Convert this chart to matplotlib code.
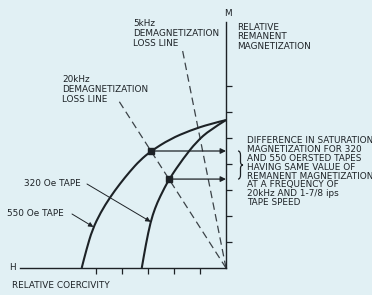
import numpy as np
import matplotlib
matplotlib.use("Agg")
import matplotlib.pyplot as plt
from matplotlib.path import Path
from matplotlib.patches import PathPatch

# --- data, in tick units (relative coercivity H, relative remanent magnetization M) ---
tape550_h = [-5.55, -5.37, -5.14, -4.82, -4.46, -4.08, -3.69, -3.31, -2.88, -2.15, -1.38, -0.62, 0.00]
tape550_m = [0.00, 0.70, 1.48, 2.14, 2.72, 3.24, 3.72, 4.14, 4.50, 4.96, 5.29, 5.54, 5.69]

tape320_h = [-3.24, -3.08, -2.90, -2.73, -2.54, -2.19, -1.64, -1.13, -0.62, 0.00]
tape320_m = [0.00, 0.92, 1.78, 2.30, 2.74, 3.42, 4.22, 4.86, 5.31, 5.69]

loss20_h = [0.0, -4.15]
loss20_m = [0.0, 6.47]
loss5_h = [0.0, -1.69]
loss5_m = [0.0, 8.46]

# points where the 20 kHz loss line meets each tape curve
cross_h = [-2.88, -2.19]
cross_m = [4.50, 3.42]

h_ticks = [-5, -4, -3, -2, -1]
m_ticks = [1, 2, 3, 4, 5, 6, 7]

# --- layout helpers (reference is 372x295 px, origin at px 226,268, 26 px per tick) ---
W, H = 372, 295
X0, Y0, UNIT = 226, 268, 26.0


def px(x, y):
    """pixel position in the picture -> data units"""
    return ((x - X0) / UNIT, (Y0 - y) / UNIT)


def smooth_path(xs, ys):
    """quadratic bezier chain through the midpoints, so the read points don't show as kinks"""
    p = np.column_stack([xs, ys])
    verts = [p[0], (p[0] + p[1]) / 2]
    codes = [Path.MOVETO, Path.LINETO]
    for i in range(1, len(p) - 1):
        end = (p[i] + p[i + 1]) / 2 if i < len(p) - 2 else p[-1]
        verts += [p[i], end]
        codes += [Path.CURVE3, Path.CURVE3]
    return Path(verts, codes)


bg = "#e1f0f4"
ink = "#1d2226"
fs = 6.4

fig = plt.figure(figsize=(W / 100, H / 100), dpi=100, facecolor=bg)
ax = fig.add_axes([0, 0, 1, 1], facecolor=bg)
ax.set_xlim(-X0 / UNIT, (W - X0) / UNIT)
ax.set_ylim((Y0 - H) / UNIT, Y0 / UNIT)

# axes through the origin
ax.spines["left"].set_visible(False)
ax.spines["top"].set_visible(False)
ax.spines["right"].set_position(("data", 0))
ax.spines["bottom"].set_position(("data", 0))
ax.spines["right"].set_bounds(0, px(0, 22)[1])
ax.spines["bottom"].set_bounds(px(20, 0)[0], 0)
for sp in ("right", "bottom"):
    ax.spines[sp].set_color(ink)
    ax.spines[sp].set_linewidth(1.0)
ax.yaxis.tick_right()
ax.set_xticks(h_ticks)
ax.set_yticks(m_ticks)
ax.set_xticklabels([])
ax.set_yticklabels([])
ax.tick_params(direction="out", length=4, width=0.9, color=ink)

# curves
for hs, ms in ((tape550_h, tape550_m), (tape320_h, tape320_m)):
    ax.add_patch(PathPatch(smooth_path(hs, ms), fill=False, ec=ink, lw=1.5,
                           capstyle="butt", zorder=3))

# demagnetization loss lines
ax.plot(loss20_h, loss20_m, color="#3b4247", lw=0.9, dashes=(6, 3.5), zorder=2)
ax.plot(loss5_h, loss5_m, color="#3b4247", lw=0.9, dashes=(6, 3.5), zorder=2)

# intersections + horizontal arrows to the M axis
ax.plot(cross_h, cross_m, ls="none", marker="s", ms=4, color=ink, zorder=4)
arr = dict(arrowstyle="-|>", color=ink, lw=0.9, mutation_scale=8, shrinkA=0, shrinkB=0)
for h, m in zip(cross_h, cross_m):
    ax.annotate("", xy=(0, m), xytext=(h, m), arrowprops=arr, zorder=4)

# brace between the two magnetization levels
bx = px(238, 0)[0]
bw = 5 / UNIT
y0, y1 = min(cross_m), max(cross_m)
ym = (y0 + y1) / 2
hh = y1 - y0
xm = bx + bw / 2
verts = [(bx, y1), (xm, y1), (xm, y1 - 0.15 * hh),
         (xm, ym + 0.12 * hh), (xm, ym), (bx + bw, ym),
         (xm, ym), (xm, ym - 0.12 * hh),
         (xm, y0 + 0.15 * hh), (xm, y0), (bx, y0)]
codes = [Path.MOVETO, Path.CURVE3, Path.CURVE3,
         Path.LINETO, Path.CURVE3, Path.CURVE3,
         Path.CURVE3, Path.CURVE3,
         Path.LINETO, Path.CURVE3, Path.CURVE3]
ax.add_patch(PathPatch(Path(verts, codes), fill=False, ec=ink, lw=0.9))

# text
def label(x, y, s, **kw):
    ax.text(*px(x, y), s, fontsize=fs, color=ink, va="center", ha=kw.pop("ha", "left"), **kw)


label(228, 14, "M", ha="center")
for i, s in enumerate(["RELATIVE", "REMANENT", "MAGNETIZATION"]):
    label(237, 27 + 9.8 * i, s)
for i, s in enumerate(["5kHz", "DEMAGNETIZATION", "LOSS LINE"]):
    label(133, 23 + 10 * i, s)
for i, s in enumerate(["20kHz", "DEMAGNETIZATION", "LOSS LINE"]):
    label(62, 80 + 9.5 * i, s)
note = ["DIFFERENCE IN SATURATION", "MAGNETIZATION FOR 320", "AND 550 OERSTED TAPES",
        "HAVING SAME VALUE OF", "REMANENT MAGNETIZATION", "AT A FREQUENCY OF",
        "20kHz AND 1-7/8 ips", "TAPE SPEED"]
for i, s in enumerate(note):
    label(247, 140.7 + 8.85 * i, s)
label(9, 268, "H")
label(12, 285, "RELATIVE COERCIVITY")

# tape labels with pointer arrows
label(24, 183, "320 Oe TAPE")
label(7, 213, "550 Oe TAPE")
thin = dict(arrowstyle="-|>", color=ink, lw=0.7, mutation_scale=7, shrinkA=0, shrinkB=0)
ax.annotate("", xy=(tape320_h[2], tape320_m[2]), xytext=px(87, 184), arrowprops=thin)
ax.annotate("", xy=(-5.10, 1.58), xytext=px(72, 214), arrowprops=thin)

fig.savefig("out.png", dpi=100, facecolor=bg)
